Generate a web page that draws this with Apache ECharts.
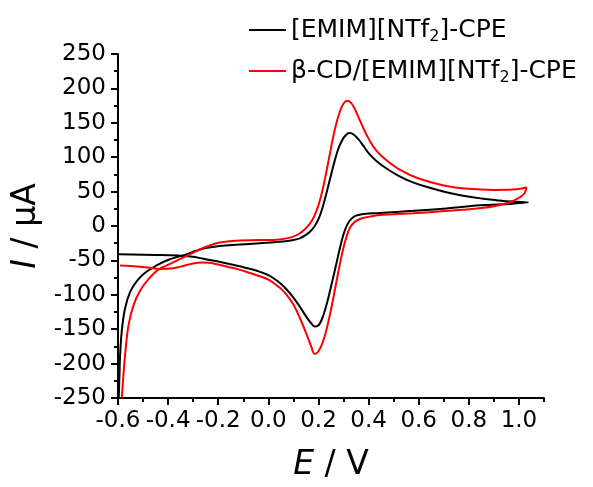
<!DOCTYPE html>
<html>
<head>
<meta charset="utf-8">
<script src="https://cdn.jsdelivr.net/npm/echarts@6/dist/echarts.min.js"></script>
<style>
  html, body { margin: 0; padding: 0; background: #fff; }
  #main { width: 593px; height: 487px; }
</style>
</head>
<body>
<div id="main"></div>
<script>
// [EMIM][NTf2]-CPE, forward scan (-0.6 -> 1.0)
var bkFwdE = [-0.597, -0.594, -0.592, -0.585, -0.572, -0.552, -0.525, -0.492, -0.452, -0.399, -0.333, -0.287, -0.25, -0.194, -0.114, -0.035, 0.045, 0.09, 0.125, 0.15, 0.17, 0.185, 0.2, 0.215, 0.232, 0.25, 0.265, 0.28, 0.298, 0.313, 0.325, 0.34, 0.36, 0.38, 0.40, 0.43, 0.47, 0.52, 0.58, 0.644, 0.71, 0.777, 0.85, 0.91, 0.97, 1.036];
var bkFwdI = [-250, -215, -191, -153, -120, -96, -80, -68, -58.5, -49, -42, -36, -32, -29, -27, -25, -23, -21, -18, -13, -7, 0, 10, 25, 48, 74, 95, 113, 127, 133.5, 135, 133, 126, 116, 106, 95, 84, 73, 63, 55.5, 49, 44, 40, 37.5, 35.5, 34.5];
// reverse scan (1.0 -> -0.6)
var bkRevE = [0.976, 0.843, 0.71, 0.577, 0.444, 0.38, 0.35, 0.33, 0.315, 0.3, 0.285, 0.265, 0.245, 0.228, 0.212, 0.198, 0.185, 0.17, 0.15, 0.125, 0.1, 0.075, 0.05, 0.025, 0, -0.03, -0.07, -0.11, -0.16, -0.21, -0.26, -0.31, -0.36, -0.45, -0.596];
var bkRevI = [32.5, 30, 25.5, 22, 19, 17.5, 15, 10, 2, -12, -33, -65, -96, -120, -137, -145, -146, -141, -131, -117, -104, -93, -84, -77, -71.5, -67, -62.5, -59, -55, -51, -47.5, -44.5, -43, -42, -41];

// β-CD/[EMIM][NTf2]-CPE, forward scan
var rdFwdE = [-0.585, -0.578, -0.569, -0.558, -0.538, -0.512, -0.479, -0.439, -0.386, -0.333, -0.279, -0.24, -0.194, -0.114, -0.035, 0.045, 0.09, 0.12, 0.145, 0.165, 0.18, 0.195, 0.21, 0.225, 0.245, 0.265, 0.285, 0.3, 0.315, 0.33, 0.345, 0.36, 0.378, 0.4, 0.43, 0.47, 0.524, 0.6, 0.7, 0.8, 0.9, 0.976, 1.03];
var rdFwdI = [-250, -215, -177, -144, -115, -94, -77.5, -63.5, -54, -44.5, -35, -29, -24, -21, -20.5, -19.5, -16.5, -12, -5, 3, 12, 25, 43, 67, 104, 140, 166, 178, 182, 179, 170, 158, 143, 127, 110, 96, 82, 69, 59, 54, 52.5, 53, 56];
// reverse scan
var rdRevE = [1.023, 1.0, 0.976, 0.95, 0.91, 0.85, 0.777, 0.68, 0.577, 0.5, 0.444, 0.41, 0.37, 0.345, 0.325, 0.31, 0.298, 0.285, 0.268, 0.252, 0.235, 0.218, 0.2, 0.185, 0.17, 0.152, 0.125, 0.1, 0.075, 0.05, 0.025, 0, -0.035, -0.08, -0.12, -0.16, -0.2, -0.24, -0.27, -0.3, -0.34, -0.38, -0.43, -0.49, -0.55, -0.592];
var rdRevI = [48, 41, 36.5, 33, 29.5, 26, 23.5, 21, 18.5, 17, 16, 14, 11, 6, -3, -18, -34, -56, -88, -118, -146, -168, -182, -186, -174, -157, -133, -114, -101, -91, -84, -78, -73, -67.5, -63, -59.5, -56, -53.5, -53, -54.5, -58, -61.5, -62.5, -60, -58, -57.5];

var potentialLabels = [-0.6, -0.4, -0.2, 0, 0.2, 0.4, 0.6, 0.8, 1.0];
var seriesNames = ['[EMIM][NTf2]-CPE', '\u03b2-CD/[EMIM][NTf2]-CPE'];

function pairs(es, is) {
    return es.map(function (e, k) { return [e, is[k]]; });
}

var font = 'DejaVu Sans';
var myChart = echarts.init(document.getElementById('main'));
var option = {
    animation: false,
    backgroundColor: '#fff',
    grid: { left: 118, right: 49, top: 54, bottom: 81 },
    legend: {
        orient: 'vertical',
        left: 249,
        top: 15,
        padding: 0,
        itemGap: 11,
        icon: 'rect',
        itemWidth: 37,
        itemHeight: 2,
        data: seriesNames,
        formatter: function (name) {
            return name.replace('NTf2', 'NTf{s|2}');
        },
        textStyle: {
            fontFamily: font, fontSize: 25, color: '#000', lineHeight: 30,
            rich: {
                s: { fontFamily: font, fontSize: 16, lineHeight: 12, verticalAlign: 'bottom', color: '#000' }
            }
        }
    },
    xAxis: [{
        type: 'value',
        min: -0.6,
        max: 1.1,
        interval: 0.2,
        name: '{i|E} / V',
        nameLocation: 'middle',
        nameGap: 51,
        nameTextStyle: {
            fontFamily: font, fontSize: 33, color: '#000',
            rich: { i: { fontFamily: font, fontSize: 33, fontStyle: 'italic', color: '#000' } }
        },
        axisLine: { show: true, onZero: false, lineStyle: { color: '#000', width: 2 } },
        axisTick: { show: true, length: 7, lineStyle: { width: 2 }, customValues: potentialLabels },
        axisLabel: {
            customValues: potentialLabels,
            margin: 12,
            fontFamily: font, fontSize: 23, color: '#000',
            formatter: function (v) { return v.toFixed(1); }
        },
        splitLine: { show: false }
    }, {
        // minor ticks every 0.1 V
        type: 'value',
        position: 'bottom',
        min: -0.6,
        max: 1.1,
        interval: 0.1,
        axisLine: { show: false, onZero: false },
        axisTick: { show: true, length: 4, lineStyle: { color: '#000', width: 2 } },
        axisLabel: { show: false },
        splitLine: { show: false }
    }],
    yAxis: {
        type: 'value',
        min: -250,
        max: 250,
        interval: 50,
        name: '{i|I} / \u00b5A',
        nameLocation: 'middle',
        nameRotate: 90,
        nameGap: 58,
        nameTextStyle: {
            fontFamily: font, fontSize: 33, color: '#000',
            rich: { i: { fontFamily: font, fontSize: 33, fontStyle: 'italic', color: '#000' } }
        },
        axisLine: { show: true, onZero: false, lineStyle: { color: '#000', width: 2 } },
        axisTick: { show: true, length: 7, lineStyle: { width: 2 } },
        minorTick: { show: true, splitNumber: 2, length: 4, lineStyle: { color: '#000', width: 2 } },
        axisLabel: { margin: 12, fontFamily: font, fontSize: 23, color: '#000' },
        splitLine: { show: false }
    },
    series: [{
        name: seriesNames[0],
        type: 'line',
        symbol: 'none',
        smooth: 0.4,
        color: '#000',
        lineStyle: { color: '#000', width: 2 },
        data: pairs(bkFwdE, bkFwdI).concat(pairs(bkRevE, bkRevI))
    }, {
        name: seriesNames[1],
        type: 'line',
        symbol: 'none',
        smooth: 0.4,
        color: '#ff0000',
        lineStyle: { color: '#ff0000', width: 2 },
        data: pairs(rdFwdE, rdFwdI).concat(pairs(rdRevE, rdRevI))
    }]
};
myChart.setOption(option);
</script>
</body>
</html>
